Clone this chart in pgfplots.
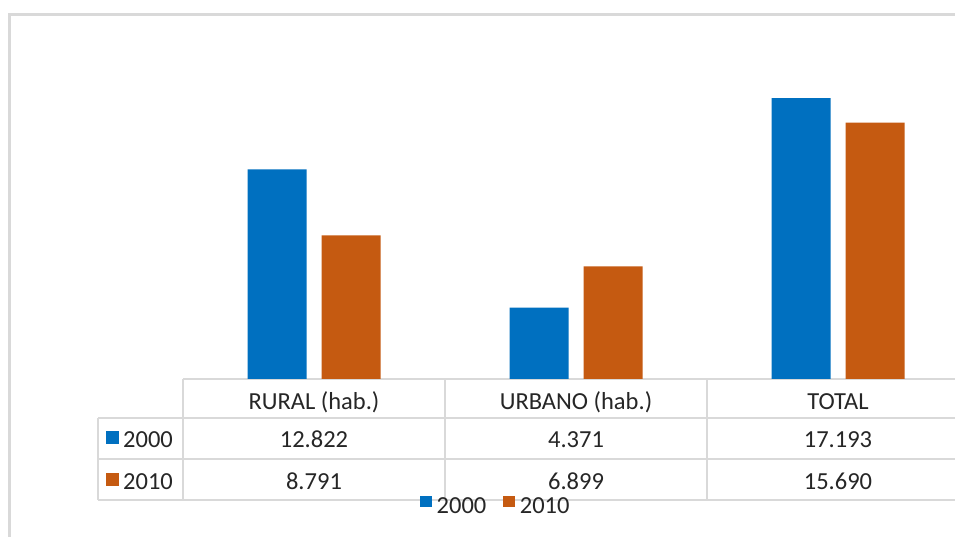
\documentclass[border=0pt]{standalone}
\usepackage{pgfplots}
\pgfplotsset{compat=1.18}
\usepackage{fontspec}
\setmainfont{Carlito}
\definecolor{cblue}{HTML}{0070C0}
\definecolor{corange}{HTML}{C55A11}
\definecolor{gridc}{HTML}{D9D9D9}
\definecolor{txt}{HTML}{262626}
\begin{document}
\begin{tikzpicture}[x=1pt,y=1pt]
\useasboundingbox (0,0) rectangle (955,537);
\clip (0,0) rectangle (955,537);
\fill[white] (0,0) rectangle (955,537);
\draw[gridc,line width=2.5pt] (9.5,-10) -- (9.5,522.5) -- (975,522.5);
\begin{scope}[gridc, line width=2pt]
\draw (183,158) -- (975,158);
\draw (98,119) -- (975,119);
\draw (98,78) -- (975,78);
\draw (98,37) -- (975,37);
\draw (98,119) -- (98,37);
\draw (183,158) -- (183,37);
\draw (445,158) -- (445,37);
\draw (707,158) -- (707,37);
\end{scope}
\begin{axis}[
  at={(183pt,158pt)}, anchor=south west,
  width=786pt, height=326.8pt, scale only axis,
  xmin=-0.5, xmax=2.5, ymin=0, ymax=20,
  hide axis, clip=false,
  ybar, bar width=59pt,
  legend columns=2,
  legend style={at={(0.398,-0.390)}, anchor=center, draw=none, fill=none,
    font=\fontsize{24.5}{28}\selectfont\color{txt},
    /tikz/every odd column/.append style={column sep=3pt},
    /tikz/every even column/.append style={column sep=15pt}},
  legend image code/.code={\fill[#1] (0pt,-0.3pt) rectangle (11.5pt,10.7pt);},
]
\addplot[fill=cblue, draw=none, bar shift=-37pt] coordinates {(0,12.822) (1,4.371) (2,17.193)};
\addplot[fill=corange, draw=none, bar shift=37pt] coordinates {(0,8.791) (1,6.899) (2,15.690)};
\legend{2000,2010}
\end{axis}
\begin{scope}[every node/.style={font=\fontsize{24.5}{28}\selectfont, text=txt, inner sep=0pt, anchor=base}]
\node at (314,127) {RURAL (hab.)};
\node at (576,127) {URBANO (hab.)};
\node at (838,127) {TOTAL};
\node at (314,89.7) {12.822};
\node at (576,89.7) {4.371};
\node at (838,89.7) {17.193};
\node at (314,47.7) {8.791};
\node at (576,47.7) {6.899};
\node at (838,47.7) {15.690};
\node[anchor=base west] at (123,89.7) {2000};
\node[anchor=base west] at (123,47.7) {2010};
\end{scope}
\fill[cblue] (106,93) rectangle (119,106);
\fill[corange] (106,51) rectangle (119,64);
\end{tikzpicture}
\end{document}
